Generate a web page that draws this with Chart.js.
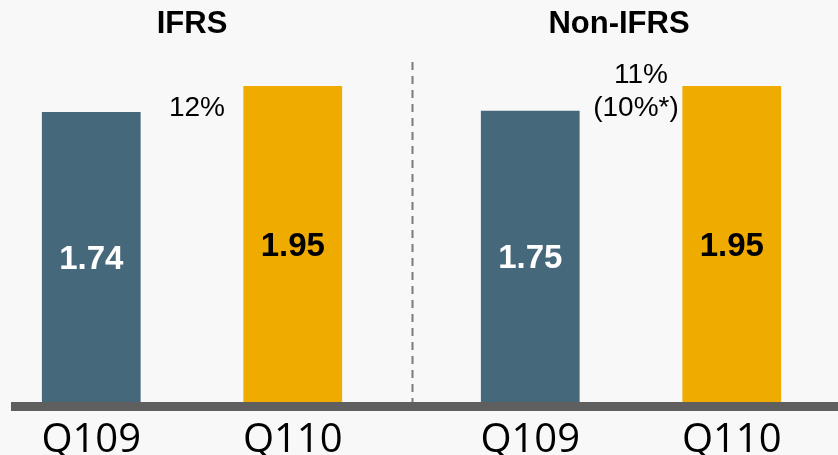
<!DOCTYPE html>
<html>
<head>
<meta charset="utf-8">
<script src="https://cdn.jsdelivr.net/npm/chart.js@4/dist/chart.umd.min.js"></script>
<style>
  html, body { margin: 0; padding: 0; background: #f8f8f8; }
  #wrap { width: 838px; height: 455px; position: relative; }
</style>
</head>
<body>
<div id="wrap"><canvas id="epsChart"></canvas></div>
<script>
// Data
const groups = ['IFRS', 'Non-IFRS'];
const quarters = ['Q109', 'Q110'];
const q109Values = [1.74, 1.75];
const q110Values = [1.95, 1.95];
const growthLabels = [['12%'], ['11%', '(10%*)']];

// The slide's bars are not drawn from zero, so the value axis starts below it
const yMin = -0.6;
const yMax = 2.16;

const blue = '#46687b';
const gold = '#f0ab00';

document.addEventListener('DOMContentLoaded', function() {

  // Draws baseline, divider and all text around the bars
  const slideDecor = {
    id: 'slideDecor',
    afterDatasetsDraw(chart) {
      const ctx = chart.ctx;
      const area = chart.chartArea;
      const m0 = chart.getDatasetMeta(0).data;
      const m1 = chart.getDatasetMeta(1).data;
      const bars = [m0[0], m1[0], m0[1], m1[1]];
      ctx.save();

      // dashed divider between the two groups
      const leftEdge = bars[1].x + bars[1].width / 2;
      const rightEdge = bars[2].x - bars[2].width / 2;
      const divX = Math.round((leftEdge + rightEdge) / 2) + 0.5;
      ctx.strokeStyle = '#7a7a7a';
      ctx.lineWidth = 2;
      ctx.setLineDash([8, 6]);
      ctx.beginPath();
      ctx.moveTo(divX, 62);
      ctx.lineTo(divX, area.bottom);
      ctx.stroke();
      ctx.setLineDash([]);

      // thick grey baseline
      ctx.fillStyle = '#5f5f5f';
      ctx.fillRect(11, area.bottom, chart.width - 11, 9);

      // value labels inside bars
      ctx.textAlign = 'center';
      ctx.textBaseline = 'middle';
      ctx.font = 'bold 33px "Liberation Sans", Arial, sans-serif';
      const values = [q109Values[0], q110Values[0], q109Values[1], q110Values[1]];
      bars.forEach((bar, i) => {
        ctx.fillStyle = i % 2 === 0 ? '#ffffff' : '#000000';
        ctx.fillText(values[i].toFixed(2), bar.x, (bar.y + bar.base) / 2 + 3);
      });

      // quarter labels under the baseline
      ctx.fillStyle = '#000000';
      ctx.textBaseline = 'alphabetic';
      ctx.font = '40px "Open Sans", sans-serif';
      bars.forEach((bar, i) => {
        ctx.fillText(quarters[i % 2], bar.x, 452);
      });

      // group titles
      ctx.font = 'bold 31px "Liberation Sans", Arial, sans-serif';
      ctx.textBaseline = 'middle';
      const titleNudge = [0, -12];
      groups.forEach((g, i) => {
        const cx = (bars[i * 2].x + bars[i * 2 + 1].x) / 2 + titleNudge[i];
        ctx.fillText(g, cx, 24);
      });

      // growth labels between the bars
      ctx.font = '28px "Liberation Sans", Arial, sans-serif';
      growthLabels.forEach((lines, i) => {
        const a = bars[i * 2], b = bars[i * 2 + 1];
        const cx = ((a.x + a.width / 2) + (b.x - b.width / 2)) / 2 + 5;
        lines.forEach((line, j) => {
          const y = 108 - (lines.length - 1 - j) * 33;
          ctx.fillText(line, j === 0 && lines.length > 1 ? cx + 5 : cx, y);
        });
      });

      ctx.restore();
    }
  };

  new Chart(document.getElementById('epsChart'), {
    type: 'bar',
    data: {
      labels: groups,
      datasets: [
        { label: quarters[0], data: q109Values, backgroundColor: blue, base: yMin, clip: false },
        { label: quarters[1], data: q110Values, backgroundColor: gold, base: yMin, clip: false }
      ]
    },
    options: {
      responsive: true,
      maintainAspectRatio: false,
      animation: false,
      categoryPercentage: 0.918,
      barPercentage: 0.49,
      layout: {
        padding: { left: 192, right: 207, top: 60, bottom: 53 }
      },
      scales: {
        x: { display: false, offset: false },
        y: { display: false, min: yMin, max: yMax }
      },
      plugins: {
        legend: { display: false },
        tooltip: { enabled: false }
      }
    },
    plugins: [slideDecor]
  });
});
</script>
</body>
</html>
